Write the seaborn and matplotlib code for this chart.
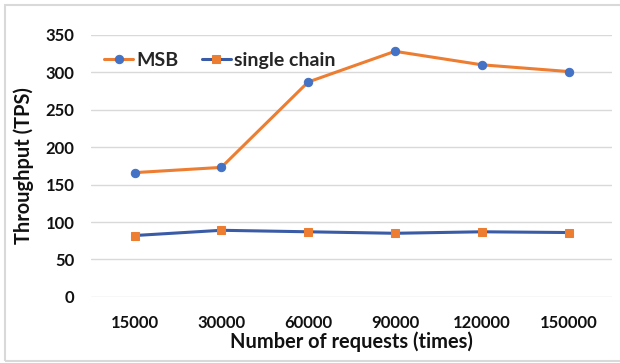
import matplotlib
matplotlib.use("Agg")
import matplotlib.pyplot as plt
import seaborn as sns
import pandas as pd
from matplotlib.patches import Rectangle

categories = ["15000", "30000", "60000", "90000", "120000", "150000"]
msb = [166, 173, 287, 328, 310, 301]
single_chain = [82, 89, 87, 85, 87, 86]
y_ticks = [0, 50, 100, 150, 200, 250, 300, 350]

sns.set_theme(style="white")
plt.rcParams['font.family'] = ['Lato', 'DejaVu Sans']

fig = plt.figure(figsize=(6.2, 3.63), dpi=100)
ax = fig.add_axes([0.147, 0.182, 0.840, 0.722])

df_msb = pd.DataFrame({"x": categories, "y": msb})
df_sc = pd.DataFrame({"x": categories, "y": single_chain})

sns.lineplot(data=df_msb, x="x", y="y", ax=ax, color="#ED7D31", linewidth=2.2,
             marker="o", markersize=6, markerfacecolor="#4472C4",
             markeredgecolor="#4472C4", label="MSB", sort=False)
sns.lineplot(data=df_sc, x="x", y="y", ax=ax, color="#3A5BA6", linewidth=2.2,
             marker="s", markersize=6, markerfacecolor="#ED7D31",
             markeredgecolor="#ED7D31", label="single chain", sort=False)

ax.set_xlim(-0.5, len(categories) - 0.5)
ax.set_ylim(0, 350)
ax.set_yticks(y_ticks)
ax.grid(axis="y", color="#D9D9D9", linewidth=1)
ax.set_axisbelow(True)
for s in ax.spines.values():
    s.set_visible(False)
ax.tick_params(axis="both", length=0, labelsize=12, colors="#111111")
ax.tick_params(axis="x", pad=13)
ax.tick_params(axis="y", pad=12)
for lbl in ax.get_xticklabels() + ax.get_yticklabels():
    lbl.set_fontweight("bold")

ax.set_xlabel("Number of requests (times)", fontsize=14.4, fontweight="bold", color="#111111", labelpad=0)
ax.set_ylabel("Throughput (TPS)", fontsize=14.4, fontweight="bold", color="#111111", labelpad=8)

leg = ax.legend(loc="upper left", bbox_to_anchor=(-0.005, 0.995), frameon=False, ncol=2,
                prop={"weight": "bold", "size": 14}, handlelength=1.5,
                handletextpad=0.15, columnspacing=1.2, borderpad=0.3)

fig.patches.append(Rectangle((5/620, 2/363), 1.2, 1 - 7/363, transform=fig.transFigure,
                             fill=False, edgecolor="#D9D9D9", linewidth=1.5))

fig.savefig("out.png", dpi=100)
